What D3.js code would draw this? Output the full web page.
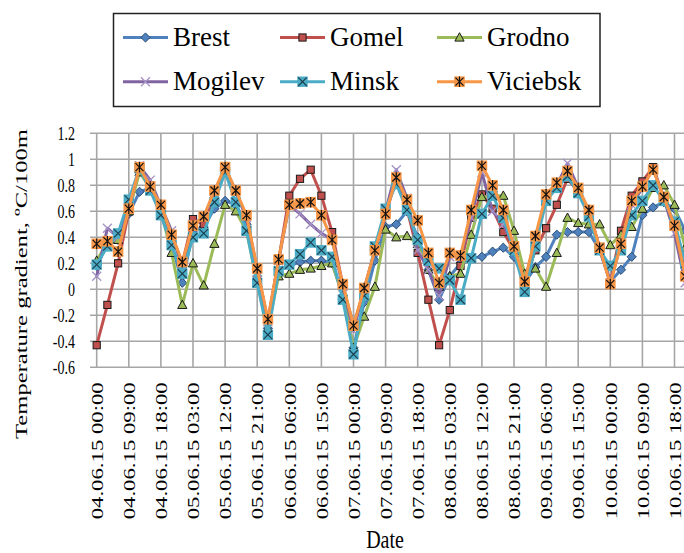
<!DOCTYPE html>
<html>
<head>
<meta charset="utf-8">
<script src="https://cdn.jsdelivr.net/npm/d3@7/dist/d3.min.js"></script>
<style>
  body { margin: 0; background: #fff; }
  svg { display: block; }
  text { font-family: "Liberation Serif", "Times New Roman", serif; fill: #000; }
</style>
</head>
<body>
<svg id="chart" width="684" height="553"></svg>
<script>
// Observation times: every 3 hours, 4–10 June 2015
const days = ["04.06.15", "05.06.15", "06.06.15", "07.06.15", "08.06.15", "09.06.15", "10.06.15"];
const hours = ["00:00", "03:00", "06:00", "09:00", "12:00", "15:00", "18:00", "21:00"];
const categories = days.flatMap(d => hours.map(h => d + " " + h));

const xTickLabels = [
  "04.06.15 00:00", "04.06.15 09:00", "04.06.15 18:00",
  "05.06.15 03:00", "05.06.15 12:00", "05.06.15 21:00",
  "06.06.15 06:00", "06.06.15 15:00",
  "07.06.15 00:00", "07.06.15 09:00", "07.06.15 18:00",
  "08.06.15 03:00", "08.06.15 12:00", "08.06.15 21:00",
  "09.06.15 06:00", "09.06.15 15:00",
  "10.06.15 00:00", "10.06.15 09:00", "10.06.15 18:00"
];
const yTicks = [1.2, 1, 0.8, 0.6, 0.4, 0.2, 0, -0.2, -0.4, -0.6];
const yTickLabels = ["1.2", "1", "0.8", "0.6", "0.4", "0.2", "0", "-0.2", "-0.4", "-0.6"];

// Temperature gradient, °C/100m
const brest = [
  0.18, 0.35, 0.38, 0.58, 0.75, 0.78, 0.6, 0.35,
  0.05, 0.45, 0.48, 0.62, 0.68, 0.65, 0.5, 0.1,
  -0.3, 0.15, 0.18, 0.21, 0.22, 0.22, 0.2, -0.05,
  -0.45, -0.1, 0.22, 0.48, 0.5, 0.6, 0.4, 0.15,
  -0.08, 0.1, 0.2, 0.24, 0.25, 0.29, 0.32, 0.25,
  0.05, 0.17, 0.25, 0.42, 0.44, 0.44, 0.44, 0.3,
  0.06, 0.15, 0.25, 0.57, 0.63, 0.67, 0.62, 0.45
];
const gomel = [
  -0.43, -0.12, 0.2, 0.6, 0.93, 0.8, 0.63, 0.42,
  0.2, 0.54, 0.5, 0.74, 0.94, 0.75, 0.56, 0.15,
  -0.24, 0.22, 0.72, 0.85, 0.92, 0.72, 0.44, 0.03,
  -0.28, 0.0, 0.3, 0.57, 0.86, 0.62, 0.28, -0.08,
  -0.43, -0.16, 0.18, 0.55, 0.73, 0.62, 0.44, 0.3,
  0.07, 0.3, 0.47, 0.65, 0.85, 0.75, 0.6, 0.32,
  0.05, 0.45, 0.72, 0.83, 0.94, 0.7, 0.48, 0.1
];
const grodno = [
  0.22, 0.36, 0.38, 0.6, 0.9, 0.78, 0.6, 0.28,
  -0.12, 0.2, 0.03, 0.35, 0.65, 0.6, 0.45, 0.05,
  -0.3, 0.1, 0.12, 0.15, 0.16, 0.18, 0.2, -0.05,
  -0.45, -0.21, 0.02, 0.46, 0.4, 0.41, 0.35, 0.15,
  0.02, 0.1, 0.12, 0.42, 0.71, 0.72, 0.72, 0.45,
  0.12, 0.16, 0.02, 0.28, 0.55, 0.51, 0.5, 0.5,
  0.34, 0.42, 0.48, 0.62, 0.78, 0.8, 0.65, 0.32
];
const mogilev = [
  0.1, 0.47, 0.4, 0.62, 0.95, 0.84, 0.64, 0.45,
  0.15, 0.5, 0.55, 0.75, 0.93, 0.75, 0.55, 0.13,
  -0.25, 0.22, 0.65, 0.58, 0.5, 0.43, 0.38, 0.02,
  -0.32, 0.0, 0.3, 0.6, 0.92, 0.7, 0.3, 0.15,
  -0.05, 0.25, 0.25, 0.55, 0.9, 0.6, 0.5, 0.32,
  0.06, 0.38, 0.7, 0.8, 0.97, 0.78, 0.6, 0.32,
  0.05, 0.35, 0.65, 0.78, 0.93, 0.7, 0.43, 0.05
];
const minsk = [
  0.19, 0.33, 0.43, 0.69, 0.93, 0.76, 0.57, 0.34,
  0.12, 0.4, 0.43, 0.67, 0.9, 0.67, 0.45, 0.05,
  -0.35, 0.14, 0.19, 0.27, 0.36, 0.3, 0.25, -0.08,
  -0.5, -0.05, 0.33, 0.62, 0.81, 0.61, 0.38, 0.22,
  0.16, 0.07, -0.08, 0.24, 0.58, 0.72, 0.55, 0.3,
  -0.02, 0.33, 0.68, 0.78, 0.87, 0.74, 0.56, 0.3,
  0.18, 0.3, 0.57, 0.68, 0.8, 0.68, 0.52, 0.2
];
const viciebsk = [
  0.35, 0.37, 0.29, 0.62, 0.94, 0.79, 0.65, 0.42,
  0.21, 0.49, 0.56, 0.76, 0.94, 0.76, 0.57, 0.16,
  -0.23, 0.23, 0.65, 0.66, 0.67, 0.57, 0.38, 0.04,
  -0.28, 0.01, 0.3, 0.58, 0.86, 0.69, 0.53, 0.28,
  0.05, 0.28, 0.26, 0.61, 0.95, 0.8, 0.61, 0.33,
  0.06, 0.41, 0.73, 0.82, 0.91, 0.78, 0.61, 0.32,
  0.04, 0.35, 0.68, 0.79, 0.92, 0.71, 0.49, 0.1
];

const seriesNames = ["Brest", "Gomel", "Grodno", "Mogilev", "Minsk", "Viciebsk"];
const seriesValues = [brest, gomel, grodno, mogilev, minsk, viciebsk];
const seriesColors = ["#4F81BD", "#C0504D", "#9BBB59", "#8064A2", "#4BACC6", "#F79646"];
const seriesMarkers = ["diamond", "square", "triangle", "cross", "boxcross", "star"];

const svg = d3.select("#chart");

const plotLeft = 90, plotRight = 690;
const x = d3.scalePoint().domain(categories).range([96.7, 685.2]);
const y = d3.scaleLinear().domain([-0.6, 1.2]).range([367.3, 133.3]);

// Grid
const grid = svg.append("g").attr("stroke", "#a6a6a6").attr("stroke-width", 1.6);
grid.selectAll("line.h").data(yTicks).join("line")
  .attr("class", "h")
  .attr("x1", plotLeft).attr("x2", plotRight)
  .attr("y1", d => y(d)).attr("y2", d => y(d));
grid.selectAll("line.v").data(xTickLabels).join("line")
  .attr("class", "v")
  .attr("x1", d => x(d)).attr("x2", d => x(d))
  .attr("y1", y(1.2)).attr("y2", y(-0.6));

// Y axis labels (slightly tall glyphs)
const yAxis = svg.append("g")
  .attr("transform", `translate(${plotLeft},0)`)
  .call(d3.axisLeft(y).tickValues(yTicks).tickFormat((d, i) => yTickLabels[i]).tickSize(0));
yAxis.select(".domain").remove();
yAxis.selectAll("text")
  .attr("font-family", "Liberation Serif")
  .attr("font-size", 14)
  .attr("x", 0)
  .attr("dy", "0.34em")
  .attr("text-anchor", "end")
  .attr("transform", "translate(-15,0) scale(1,1.35)");

// X axis labels
const xAxis = svg.append("g")
  .attr("transform", `translate(0,${y(-0.6)})`)
  .call(d3.axisBottom(x).tickValues(xTickLabels).tickSize(0));
xAxis.select(".domain").remove();
xAxis.selectAll("text")
  .attr("font-family", "Liberation Serif")
  .attr("font-size", 16)
  .attr("x", 0).attr("y", 0)
  .attr("dy", "0.36em")
  .attr("text-anchor", "end")
  .attr("textLength", 137)
  .attr("lengthAdjust", "spacingAndGlyphs")
  .attr("transform", "translate(0,15) rotate(-90)");

// Axis titles
svg.append("text")
  .attr("transform", "translate(27,284) rotate(-90)")
  .attr("text-anchor", "middle")
  .attr("font-size", 17)
  .attr("textLength", 310)
  .attr("lengthAdjust", "spacingAndGlyphs")
  .text("Temperature gradient, ºC/100m");

svg.append("text")
  .attr("transform", "translate(385,548) scale(1,1.25)")
  .attr("text-anchor", "middle")
  .attr("font-size", 20)
  .text("Date");

// Marker drawing
function drawMarker(g, type, color) {
  if (type === "diamond") {
    g.append("path").attr("d", "M0,-4.6L4.6,0L0,4.6L-4.6,0Z")
      .attr("fill", color).attr("stroke", "#2c4d75").attr("stroke-width", 1);
  } else if (type === "square") {
    g.append("rect").attr("x", -3.6).attr("y", -3.6).attr("width", 7.2).attr("height", 7.2)
      .attr("fill", color).attr("stroke", "#1a1a1a").attr("stroke-width", 1);
  } else if (type === "triangle") {
    g.append("path").attr("d", "M0,-4.8L4.6,3.6L-4.6,3.6Z")
      .attr("fill", color).attr("stroke", "#1a1a1a").attr("stroke-width", 1);
  } else if (type === "cross") {
    g.append("path").attr("d", "M-4.5,-4.5L4.5,4.5M-4.5,4.5L4.5,-4.5")
      .attr("fill", "none").attr("stroke", "#a593c6").attr("stroke-width", 1.3);
  } else if (type === "boxcross") {
    g.append("rect").attr("x", -5.2).attr("y", -5.2).attr("width", 10.4).attr("height", 10.4)
      .attr("fill", color).attr("stroke", "none");
    g.append("path").attr("d", "M-4.3,-4.3L4.3,4.3M-4.3,4.3L4.3,-4.3")
      .attr("fill", "none").attr("stroke", "#1d3f50").attr("stroke-width", 1.2);
  } else if (type === "star") {
    g.append("rect").attr("x", -5.3).attr("y", -5.3).attr("width", 10.6).attr("height", 10.6)
      .attr("fill", color).attr("stroke", "none");
    g.append("path").attr("d", "M-4,-4L4,4M-4,4L4,-4M0,-5.3L0,5.3")
      .attr("fill", "none").attr("stroke", "#111").attr("stroke-width", 1.2);
  }
}

// Series
const line = d3.line()
  .x((d, i) => x(categories[i]))
  .y(d => y(d));

seriesNames.forEach((name, s) => {
  const g = svg.append("g").attr("class", "series");
  g.append("path")
    .datum(seriesValues[s])
    .attr("d", line)
    .attr("fill", "none")
    .attr("stroke", seriesColors[s])
    .attr("stroke-width", 3)
    .attr("stroke-linejoin", "round")
    .attr("stroke-linecap", "round");
  g.selectAll("g.m").data(seriesValues[s]).join("g")
    .attr("class", "m")
    .attr("transform", (d, i) => `translate(${x(categories[i])},${y(d)})`)
    .each(function () { drawMarker(d3.select(this), seriesMarkers[s], seriesColors[s]); });
});

// Legend
const legend = svg.append("g");
legend.append("rect")
  .attr("x", 113.5).attr("y", 13.5).attr("width", 486.5).attr("height", 93)
  .attr("fill", "#fff").attr("stroke", "#222").attr("stroke-width", 1.5);
const colX = [123, 280, 437];
const rowY = [37.5, 81.7];
seriesNames.forEach((name, s) => {
  const cx = colX[s % 3], cy = rowY[Math.floor(s / 3)];
  const item = legend.append("g").attr("transform", `translate(${cx},${cy})`);
  item.append("line").attr("x1", 0).attr("x2", 45).attr("y1", 0).attr("y2", 0)
    .attr("stroke", seriesColors[s]).attr("stroke-width", 3);
  drawMarker(item.append("g").attr("transform", "translate(22.5,0)"), seriesMarkers[s], seriesColors[s]);
  item.append("text").attr("x", 50).attr("y", 8).attr("font-size", 27).text(name);
});
</script>
</body>
</html>
